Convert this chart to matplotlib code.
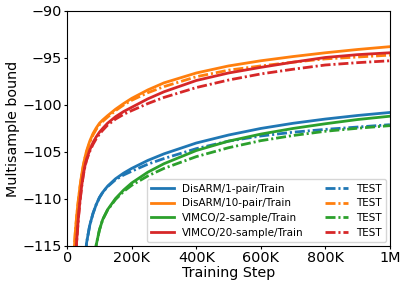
import matplotlib
matplotlib.use("Agg")
import matplotlib.pyplot as plt
from matplotlib.ticker import FixedLocator

steps = [20e3, 25e3, 30e3, 35e3, 40e3, 45e3, 50e3, 55e3, 60e3, 70e3, 80e3, 90e3, 100e3, 110e3,
         125e3, 150e3, 175e3, 200e3, 250e3, 300e3, 400e3, 500e3, 600e3, 700e3, 800e3, 900e3, 1000e3]

labels_train = ["DisARM/1-pair/Train", "DisARM/10-pair/Train", "VIMCO/2-sample/Train", "VIMCO/20-sample/Train"]
label_test = "TEST"
colors = ["#1f77b4", "#ff7f0e", "#2ca02c", "#d62728"]

# Train curves
disarm1_train  = [-150, -145, -140, -135, -130, -125, -120.5, -117, -114.7, -112.8, -111.55, -110.6, -109.85, -109.3,
                  -108.65, -107.85, -107.25, -106.75, -105.9, -105.2, -104.05, -103.2, -102.5, -101.95, -101.5, -101.12, -100.8]
disarm10_train = [-116.5, -113.6, -111.6, -110.0, -108.6, -107.4, -106.4, -105.6, -104.9, -103.85, -103.05, -102.45, -101.95, -101.6,
                  -101.15, -100.45, -99.85, -99.3, -98.4, -97.65, -96.6, -95.85, -95.3, -94.85, -94.45, -94.1, -93.8]
vimco2_train   = [-175, -170, -165, -160, -155, -150, -145, -140, -135, -127, -119, -114.9, -113.3, -112.2,
                  -111.15, -109.95, -109.05, -108.3, -107.15, -106.25, -104.85, -103.85, -103.1, -102.5, -102.0, -101.55, -101.2]
vimco20_train  = [-121, -117, -114.2, -111.9, -110.1, -108.6, -107.4, -106.5, -105.8, -104.8, -104.0, -103.4, -102.9, -102.5,
                  -101.95, -101.25, -100.7, -100.25, -99.35, -98.6, -97.4, -96.6, -96.0, -95.45, -94.95, -94.65, -94.45]

# Test curves
disarm1_test  = [-150, -145, -140, -135, -130, -125, -120.5, -117, -114.7, -112.8, -111.55, -110.6, -109.85, -109.3,
                 -108.7, -107.95, -107.45, -107.05, -106.3, -105.7, -104.65, -103.85, -103.3, -102.9, -102.6, -102.35, -102.1]
disarm10_test = [-116.5, -113.7, -111.7, -110.1, -108.7, -107.5, -106.5, -105.7, -105.05, -104.0, -103.2, -102.6, -102.1, -101.75,
                 -101.3, -100.6, -100.0, -99.5, -98.7, -98.05, -97.0, -96.3, -95.85, -95.45, -95.1, -94.9, -94.7]
vimco2_test   = [-175, -170, -165, -160, -155, -150, -145, -140, -135, -127, -119, -114.9, -113.3, -112.2,
                 -111.2, -110.05, -109.2, -108.55, -107.55, -106.75, -105.5, -104.55, -103.8, -103.25, -102.8, -102.48, -102.2]
vimco20_test  = [-121, -117, -114.3, -112.0, -110.2, -108.7, -107.5, -106.6, -105.9, -104.95, -104.2, -103.6, -103.1, -102.7,
                 -102.15, -101.5, -101.0, -100.6, -99.85, -99.2, -98.15, -97.35, -96.7, -96.2, -95.75, -95.5, -95.3]

train = [disarm1_train, disarm10_train, vimco2_train, vimco20_train]
test = [disarm1_test, disarm10_test, vimco2_test, vimco20_test]

xticks = [0, 200e3, 400e3, 600e3, 800e3, 1000e3]
xticklabels = ["0", "200K", "400K", "600K", "800K", "1M"]
yticks = [-115, -110, -105, -100, -95, -90]

fig = plt.figure(figsize=(4.07, 2.88), dpi=100)
ax = fig.add_axes([0.165, 0.146, 0.793, 0.816])

h_train, h_test = [], []
for lab, c, tr, te in zip(labels_train, colors, train, test):
    l1, = ax.plot(steps, tr, color=c, lw=2.0, ls="-", label=lab)
    l2, = ax.plot(steps, te, color=c, lw=2.0, ls=(0, (3.6, 1.05, 0.75, 1.05)), label=label_test)
    h_train.append(l1)
    h_test.append(l2)

ax.set_xlim(0, 1000e3)
ax.set_ylim(-115, -90)
ax.xaxis.set_major_locator(FixedLocator(xticks))
ax.set_xticklabels(xticklabels)
ax.set_yticks(yticks)
ax.tick_params(labelsize=10.4, length=2.2, pad=1.5)
ax.set_xlabel("Training Step", fontsize=10.3, labelpad=1)
ax.set_ylabel("Multisample bound", fontsize=10.3, labelpad=2)

ax.legend(handles=h_train + h_test, ncol=2, loc="lower right", fontsize=7.5,
          columnspacing=2.0, handlelength=2.2, labelspacing=0.45, borderaxespad=0.4)

fig.savefig("out.png", dpi=100)
